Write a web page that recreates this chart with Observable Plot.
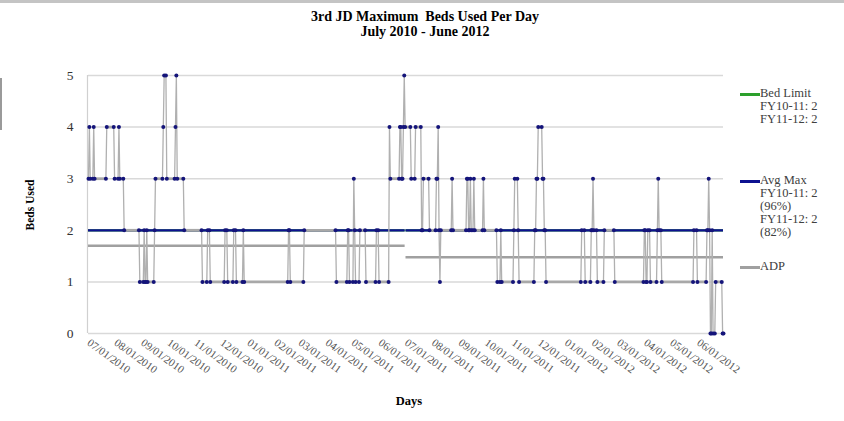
<!DOCTYPE html>
<html><head><meta charset="utf-8">
<script src="https://cdn.jsdelivr.net/npm/d3@7"></script>
<script src="https://cdn.jsdelivr.net/npm/@observablehq/plot@0.6"></script>
<style>
body{margin:0;background:#fff;}
#wrap{position:relative;width:844px;height:421px;overflow:hidden;font-family:"Liberation Serif","Times New Roman",serif;background:#fff;}
#chart{position:absolute;left:0;top:0;}
.t{position:absolute;white-space:nowrap;}
.title{left:0;width:850px;text-align:center;font-weight:bold;font-size:14px;color:#000;line-height:15px;}
.leg{position:absolute;left:740px;font-size:12.5px;color:#404040;line-height:13px;}
.leg .sw{position:absolute;left:0;top:6px;width:20px;height:2.5px;}
.leg .tx{position:absolute;left:20px;top:0;white-space:nowrap;}
.border-top{position:absolute;left:0;top:0;width:844px;height:3px;background:#c4c4c4;}
.border-left{position:absolute;left:0;top:78px;width:1.5px;height:52px;background:#9a9a9a;}
</style></head>
<body>
<div id="wrap">
  <div id="chart"></div>
  <div class="border-top"></div>
  <div class="border-left"></div>
  <div class="t title" style="top:9px">3rd JD Maximum&nbsp; Beds Used Per Day<br>July 2010 - June 2012</div>
  <div class="t" style="left:30px;top:205px;transform:translate(-50%,-50%) rotate(-90deg);font-weight:bold;font-size:11.5px;color:#000;">Beds Used</div>
  <div class="t" style="left:409px;top:401px;transform:translate(-50%,-50%);font-weight:bold;font-size:12.5px;color:#000;">Days</div>
  <div id="legend"></div>
</div>
<script>
// ---- data ----
// run-length encoding of daily maximum beds used: day offset from 07/01/2010 where a new value starts
const runStart = [0,1,2,6,7,21,30,35,36,41,59,64,65,67,68,76,77,86,87,90,100,101,102,110,131,137,140,157,160,167,170,178,179,230,232,248,285,298,300,305,306,307,312,319,331,334,346,347,358,360,362,363,364,371,376,383,385,392,400,402,403,404,405,418,419,435,437,439,440,443,444,454,455,470,474,475,489,490,494,495,513,515,517,522,524,526,567,571,578,580,581,585,593,605,639,641,643,646,654,655,656,659,696,700,711,713,714,715,717,718,721,729];
const runValue = [3,4,3,4,3,4,3,4,3,2,1,2,1,2,1,2,3,4,5,3,4,5,3,2,1,2,1,2,1,2,1,2,1,2,1,2,1,2,1,3,2,1,2,1,2,1,4,3,4,3,4,5,4,3,4,2,3,2,3,4,2,1,2,3,2,3,2,3,2,3,2,3,2,1,2,1,2,3,2,1,2,3,4,3,2,1,2,1,2,3,2,1,2,1,2,1,2,1,2,3,2,1,2,1,2,3,2,0,2,0,1,0];
const lastDay = 730; // 06/30/2012
const fyNames = ["FY10-11","FY11-12"];
const fyStartDay = [0, 365];
const fyEndDay = [364, 730];
const bedLimit = [2, 2];
const avgMax = [2, 2];
const avgMaxPct = ["96%", "82%"];
const adp = [1.70, 1.48];
const yTicks = [0,1,2,3,4,5];

// ---- build tables ----
const t0 = Date.UTC(2010, 6, 1);
const dayDate = d => new Date(t0 + d * 864e5);
const daily = [];
const markers = [];
const runs = [];
runStart.forEach((s, i) => {
  const e = i + 1 < runStart.length ? runStart[i + 1] - 1 : lastDay;
  for (let d = s; d <= e; d++) daily.push({date: dayDate(d), v: runValue[i]});
  markers.push({date: dayDate(s), v: runValue[i]});
  if (e !== s) {
    markers.push({date: dayDate(e), v: runValue[i]});
    runs.push({x1: dayDate(s), x2: dayDate(e), v: runValue[i]});
  }
});
const fy = fyNames.map((n, i) => ({
  x1: dayDate(fyStartDay[i]), x2: dayDate(fyEndDay[i]),
  bed: bedLimit[i], avg: avgMax[i], adp: adp[i]
}));
const monthTicks = d3.utcMonth.range(dayDate(0), dayDate(lastDay + 1));
const fmt = d3.utcFormat("%m/%d/%Y");

const chart = Plot.plot({
  width: 844, height: 421,
  marginLeft: 88, marginRight: 121, marginTop: 75, marginBottom: 88,
  style: {fontFamily: '"Liberation Serif","Times New Roman",serif', background: "transparent"},
  x: {type: "utc", domain: [dayDate(0), dayDate(lastDay)]},
  y: {domain: [0, 5]},
  marks: [
    Plot.gridY(yTicks, {stroke: "#d9d9d9", strokeOpacity: 1, strokeWidth: 1.5}),
    Plot.ruleX([dayDate(0)], {y1: 0, y2: 5, stroke: "#d0d0d0", strokeWidth: 1.2, dx: -1}),
    Plot.axisY(yTicks, {tickSize: 0, tickPadding: 15, tickFormat: d => String(d), fontSize: 13.5, fill: "#333", label: null}),
    Plot.axisX(monthTicks, {tickSize: 0, tickPadding: 8, tickRotate: 36, tickFormat: fmt, fontSize: 11, fill: "#555", label: null}),
    Plot.ruleY(fy, {x1: "x1", x2: "x2", y: "bed", stroke: "#2ca02c", strokeWidth: 2.2}),
    Plot.ruleY(fy, {x1: "x1", x2: "x2", y: "avg", stroke: "#0d1190", strokeWidth: 2.2}),
    Plot.ruleY(fy, {x1: "x1", x2: "x2", y: "adp", stroke: "#a0a0a0", strokeWidth: 2.5}),
    Plot.line(daily, {x: "date", y: "v", stroke: "#b0b0b0", strokeWidth: 1.3}),
    Plot.ruleY(runs, {x1: "x1", x2: "x2", y: "v", stroke: "#a8a8a8", strokeWidth: 2.8}),
    Plot.dot(markers, {x: "date", y: "v", r: 2, fill: "#14147a", stroke: "none"})
  ]
});
document.getElementById("chart").appendChild(chart);

// legend
const legend = document.getElementById("legend");
const items = [
  {top: 87, color: "#2ca02c", lines: ["Bed Limit"].concat(fyNames.map((n, i) => `${n}: ${bedLimit[i]}`))},
  {top: 174, color: "#0d1190", lines: ["Avg Max"].concat(fyNames.flatMap((n, i) => [`${n}: ${avgMax[i]}`, `(${avgMaxPct[i]})`]))},
  {top: 260, color: "#a0a0a0", lines: ["ADP"]}
];
items.forEach(it => {
  const div = document.createElement("div");
  div.className = "leg";
  div.style.top = it.top + "px";
  div.innerHTML = `<div class="sw" style="background:${it.color}"></div><div class="tx">${it.lines.join("<br>")}</div>`;
  legend.appendChild(div);
});
</script>
</body></html>
